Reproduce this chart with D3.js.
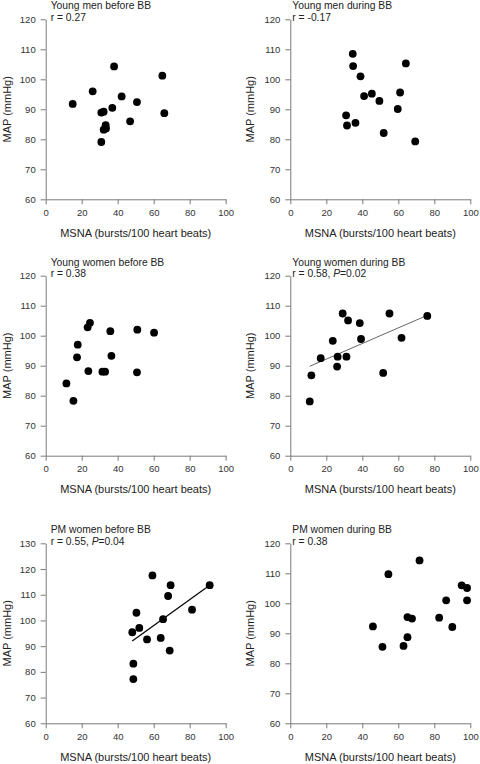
<!DOCTYPE html>
<html>
<head>
<meta charset="utf-8">
<script src="https://cdn.jsdelivr.net/npm/d3@7"></script>
<style>
  html, body { margin: 0; padding: 0; background: #fff; }
  svg { display: block; }
  text { font-family: "Liberation Sans", Arial, sans-serif; }
</style>
</head>
<body>
<script>
// ---------- DATA ----------
const panelTitles = [
  "Young men before BB", "Young men during BB",
  "Young women before BB", "Young women during BB",
  "PM women before BB", "PM women during BB"
];
const statR = ["r = 0.27", "r = -0.17", "r = 0.38", "r = 0.58, ", "r = 0.55, ", "r = 0.38"];
const statP = [null, null, null, "0.02", "0.04", null];

const xTicks = [0, 20, 40, 60, 80, 100];
const yTicksStd = [60, 70, 80, 90, 100, 110, 120];
const yTicksPM = [60, 70, 80, 90, 100, 110, 120, 130];

const xLabel = "MSNA (bursts/100 heart beats)";
const yLabel = "MAP (mmHg)";

// Young men before BB
const ymBeforeX = [15.0, 26.1, 38.0, 42.2, 50.7, 37.0, 30.9, 32.2, 46.9, 33.3, 32.2, 33.5, 30.9, 64.8, 65.9];
const ymBeforeY = [91.8, 96.0, 104.3, 94.3, 92.4, 90.5, 88.9, 89.2, 86.0, 84.7, 83.2, 83.6, 79.1, 101.2, 88.7];
// Young men during BB
const ymDuringX = [34.7, 34.9, 39.0, 41.0, 45.3, 49.5, 61.0, 59.7, 64.2, 31.0, 31.5, 36.2, 51.9, 69.4];
const ymDuringY = [108.5, 104.4, 101.0, 94.4, 95.2, 92.8, 95.6, 90.1, 105.3, 88.0, 84.6, 85.5, 82.1, 79.3];
// Young women before BB
const ywBeforeX = [24.6, 23.3, 35.9, 50.9, 60.2, 17.8, 17.4, 36.5, 23.7, 31.5, 33.0, 50.7, 11.5, 15.4];
const ywBeforeY = [104.3, 102.8, 101.5, 102.0, 101.0, 97.0, 92.8, 93.3, 88.2, 88.0, 88.0, 87.8, 84.1, 78.3];
// Young women during BB
const ywDuringX = [29.1, 32.1, 38.6, 55.1, 76.1, 23.6, 39.3, 61.8, 16.9, 26.3, 31.2, 26.0, 51.6, 11.7, 10.8];
const ywDuringY = [107.4, 105.1, 104.2, 107.4, 106.6, 98.3, 98.9, 99.3, 92.5, 93.0, 93.0, 89.7, 87.6, 86.8, 78.1];
// PM women before BB
const pmBeforeX = [59.3, 69.4, 91.1, 68.0, 81.3, 50.4, 65.2, 52.0, 48.1, 56.3, 63.9, 68.9, 48.7, 48.7];
const pmBeforeY = [117.5, 113.7, 113.7, 109.5, 104.2, 103.0, 100.5, 97.1, 95.4, 92.6, 93.2, 88.3, 83.2, 77.2];
// PM women during BB
const pmDuringX = [71.8, 54.5, 95.2, 98.2, 86.6, 98.2, 65.1, 67.6, 82.7, 90.0, 45.9, 65.1, 51.2, 62.9];
const pmDuringY = [114.3, 109.7, 106.0, 105.1, 101.0, 101.0, 95.4, 94.9, 95.2, 92.1, 92.3, 88.7, 85.5, 85.8];

// Fitted regression lines (endpoints)
const fitYWDuringX = [10.8, 76.1];
const fitYWDuringY = [89.8, 106.8];
const fitPMBeforeX = [48.1, 91.1];
const fitPMBeforeY = [92.0, 113.7];

// ---------- LAYOUT ----------
const W = 480, H = 764;
const colLeft = [45.7, 290.3];
const rowTop = [19.3, 275.7, 543.3];
const plotW = 180, plotH = 180;
const xLabelOffset = 37.5;

const panels = [
  { xs: ymBeforeX, ys: ymBeforeY, yd: [60, 120], yt: yTicksStd, fit: null },
  { xs: ymDuringX, ys: ymDuringY, yd: [60, 120], yt: yTicksStd, fit: null },
  { xs: ywBeforeX, ys: ywBeforeY, yd: [60, 120], yt: yTicksStd, fit: null },
  { xs: ywDuringX, ys: ywDuringY, yd: [60, 120], yt: yTicksStd, fit: { xs: fitYWDuringX, ys: fitYWDuringY, color: "#666", w: 1 } },
  { xs: pmBeforeX, ys: pmBeforeY, yd: [60, 130], yt: yTicksPM, fit: { xs: fitPMBeforeX, ys: fitPMBeforeY, color: "#000", w: 1.2 } },
  { xs: pmDuringX, ys: pmDuringY, yd: [60, 120], yt: yTicksStd, fit: null }
];

const svg = d3.select("body").append("svg")
  .attr("width", W).attr("height", H);

panels.forEach((p, i) => {
  const col = i % 2, row = Math.floor(i / 2);
  const left = colLeft[col], top = rowTop[row];
  const x = d3.scaleLinear().domain([0, 100]).range([left, left + plotW]);
  const y = d3.scaleLinear().domain(p.yd).range([top + plotH, top]);

  const g = svg.append("g");

  const gx = g.append("g")
    .attr("transform", `translate(0,${top + plotH})`)
    .call(d3.axisBottom(x).tickValues(xTicks).tickSize(5).tickSizeOuter(0).tickPadding(4.5));
  const gy = g.append("g")
    .attr("transform", `translate(${left},0)`)
    .call(d3.axisLeft(y).tickValues(p.yt).tickSize(5).tickSizeOuter(0).tickPadding(5));

  [gx, gy].forEach(ax => {
    ax.select(".domain").attr("stroke", "#7a7a7a").attr("stroke-width", 1);
    ax.selectAll(".tick line").attr("stroke", "#7a7a7a");
    ax.selectAll(".tick text").attr("fill", "#333").attr("font-size", 9.5)
      .attr("font-family", "'Liberation Sans', Arial, sans-serif");
  });

  if (p.fit) {
    g.append("line")
      .attr("x1", x(p.fit.xs[0])).attr("y1", y(p.fit.ys[0]))
      .attr("x2", x(p.fit.xs[1])).attr("y2", y(p.fit.ys[1]))
      .attr("stroke", p.fit.color).attr("stroke-width", p.fit.w);
  }

  const pts = p.xs.map((v, k) => [v, p.ys[k]]);
  g.selectAll("circle").data(pts).enter().append("circle")
    .attr("cx", d => x(d[0])).attr("cy", d => y(d[1]))
    .attr("r", 3.9).attr("fill", "#000");

  const tx = left + (col === 0 ? 5 : 2);
  g.append("text").attr("x", tx).attr("y", top - 10)
    .attr("font-size", 10.3).attr("fill", "#222").text(panelTitles[i]);
  const st = g.append("text").attr("x", tx).attr("y", top + 1.5)
    .attr("font-size", 10.3).attr("fill", "#222");
  st.append("tspan").text(statR[i]);
  if (statP[i]) {
    st.append("tspan").attr("font-style", "italic").text("P");
    st.append("tspan").text("=" + statP[i]);
  }

  g.append("text")
    .attr("x", left + plotW / 2).attr("y", top + plotH + xLabelOffset)
    .attr("text-anchor", "middle").attr("font-size", 11).attr("fill", "#222")
    .text(xLabel);
  const ylx = col === 0 ? 10.8 : 254;
  g.append("text")
    .attr("transform", `translate(${ylx},${top + plotH / 2}) rotate(-90)`)
    .attr("text-anchor", "middle").attr("font-size", 11).attr("fill", "#222")
    .text(yLabel);
});
</script>
</body>
</html>
